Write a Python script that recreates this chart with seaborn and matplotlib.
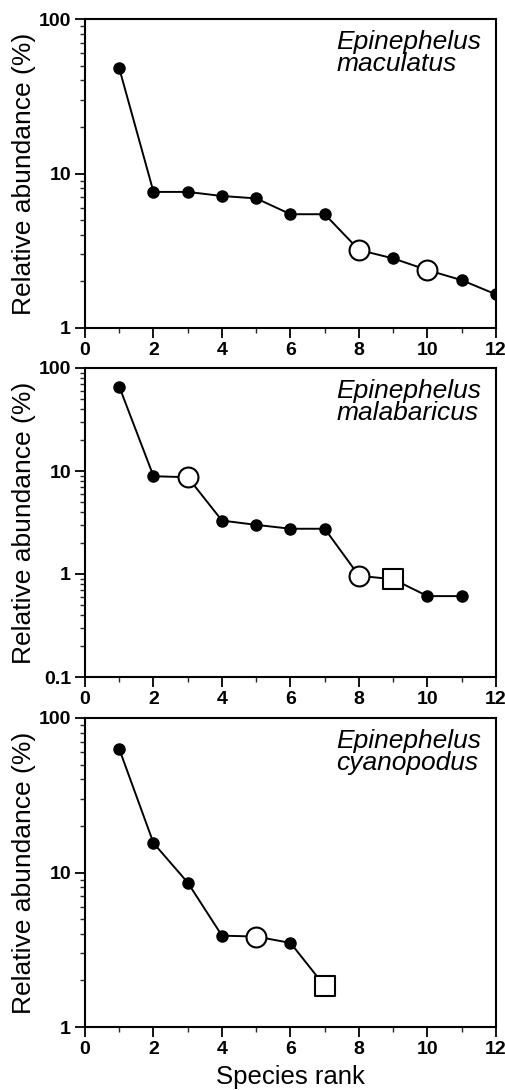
import numpy as np
import pandas as pd
import matplotlib
matplotlib.use("Agg")
import matplotlib.pyplot as plt
from matplotlib.ticker import FixedLocator, FuncFormatter, LogLocator, NullFormatter
import seaborn as sns

# ---- data ----
species = ["Epinephelus\nmaculatus", "Epinephelus\nmalabaricus", "Epinephelus\ncyanopodus"]

rank_mac = [1, 2, 3, 4, 5, 6, 7, 8, 9, 10, 11, 12]
abund_mac = [48, 7.6, 7.6, 7.15, 6.9, 5.45, 5.45, 3.2, 2.82, 2.37, 2.04, 1.65]
kind_mac = ["f", "f", "f", "f", "f", "f", "f", "o", "f", "o", "f", "f"]

rank_mal = [1, 2, 3, 4, 5, 6, 7, 8, 9, 10, 11]
abund_mal = [66, 8.9, 8.7, 3.3, 3.0, 2.75, 2.75, 0.96, 0.89, 0.61, 0.61]
kind_mal = ["f", "f", "o", "f", "f", "f", "f", "o", "s", "f", "f"]

rank_cya = [1, 2, 3, 4, 5, 6, 7]
abund_cya = [63, 15.5, 8.6, 3.9, 3.85, 3.5, 1.84]
kind_cya = ["f", "f", "f", "f", "o", "f", "s"]

ylims = [(1, 100), (0.1, 100), (1, 100)]
xticks = [0, 2, 4, 6, 8, 10, 12]

sns.set_theme(style="ticks")
plt.rcParams["font.family"] = ["Liberation Sans", "DejaVu Sans"]
plt.rcParams["axes.linewidth"] = 1.5

fig = plt.figure(figsize=(5.06, 10.9), dpi=100)
L, W, H = 85 / 506, 411 / 506, 309 / 1090
bottoms = [1 - 328 / 1090, 1 - 677 / 1090, 1 - 1027 / 1090]

data = [(rank_mac, abund_mac, kind_mac), (rank_mal, abund_mal, kind_mal), (rank_cya, abund_cya, kind_cya)]

marker_style = {
    "f": dict(marker="o", s=64, facecolor="black", edgecolor="black", linewidth=1.0),
    "o": dict(marker="o", s=205, facecolor="white", edgecolor="black", linewidth=1.5),
    "s": dict(marker="s", s=205, facecolor="white", edgecolor="black", linewidth=1.5),
}

for i, (rk, ab, kd) in enumerate(data):
    ax = fig.add_axes([L, bottoms[i], W, H])
    df = pd.DataFrame({"rank": rk, "abund": ab, "kind": kd})
    sns.lineplot(data=df, x="rank", y="abund", color="black", linewidth=1.4, ax=ax, zorder=2)
    for k, st in marker_style.items():
        sub = df[df["kind"] == k]
        if len(sub):
            sns.scatterplot(data=sub, x="rank", y="abund", ax=ax, zorder=3, legend=False, **st)
    ax.set_yscale("log")
    ax.set_xlim(0, 12)
    ax.set_ylim(*ylims[i])
    ax.xaxis.set_major_locator(FixedLocator(xticks))
    ax.xaxis.set_minor_locator(FixedLocator([1, 3, 5, 7, 9, 11]))
    ax.yaxis.set_major_locator(LogLocator(base=10, numticks=10))
    ax.yaxis.set_minor_locator(LogLocator(base=10, subs=np.arange(2, 10), numticks=10))
    ax.yaxis.set_major_formatter(FuncFormatter(lambda v, p: "%g" % v))
    ax.yaxis.set_minor_formatter(NullFormatter())
    ax.tick_params(which="major", direction="out", length=7, width=1.3, pad=3,
                   labelsize=14, colors="black")
    ax.tick_params(which="minor", direction="out", length=3.5, width=1.0)
    for lab in ax.get_xticklabels() + ax.get_yticklabels():
        lab.set_fontweight("bold")
    for sp in ax.spines.values():
        sp.set_visible(True)
        sp.set_color("black")
        sp.set_linewidth(1.5)
    ax.set_ylabel("Relative abundance (%)", fontsize=19, color="black")
    ax.yaxis.set_label_coords(-0.12, 0.5)
    if i == 2:
        ax.set_xlabel("Species rank", fontsize=18.5, color="black", labelpad=5)
    else:
        ax.set_xlabel("")
    ax.text(0.965, 0.965, species[i], transform=ax.transAxes, ha="right", va="top",
            multialignment="left", fontsize=19, style="italic", linespacing=0.92,
            color="black")

fig.savefig("out.png", dpi=100)
